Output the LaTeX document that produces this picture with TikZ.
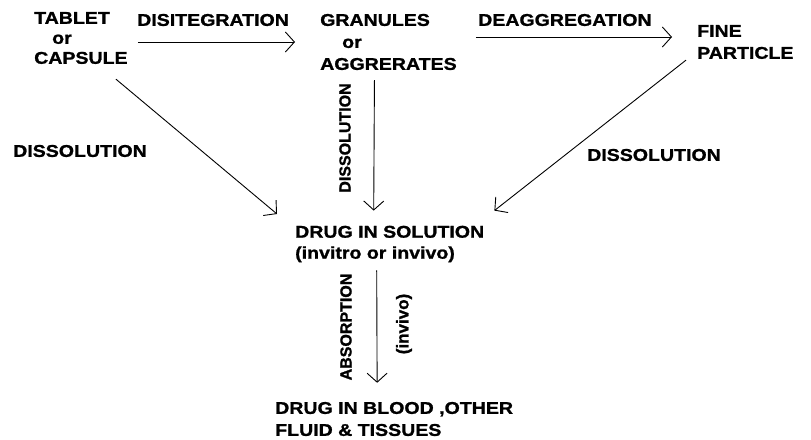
\documentclass[tikz,border=0pt]{standalone}
\usepackage{fontspec}
\setmainfont{Liberation Sans}[FakeStretch=1.15,BoldFeatures={FakeBold=1.2}]
\newfontfamily\rotfont{Liberation Sans}[BoldFeatures={FakeBold=1.2}]
\usetikzlibrary{arrows.meta,calc}
\begin{document}
\begin{tikzpicture}[x=1pt,y=-1pt,
  lbl/.style={font=\bfseries\fontsize{17}{20}\selectfont, inner sep=0pt},
  rlbl/.style={font=\rotfont\bfseries\fontsize{16}{20}\selectfont, inner sep=0pt},
  arr/.style={-{Straight Barb[length=9pt,width=20pt]}, line width=0.9pt}]
\useasboundingbox (0,0) rectangle (811,439);
% nodes
\node[lbl, align=left, anchor=west] (tablet) at (34,38) {TABLET\\\hspace*{18pt}or\\CAPSULE};
\node[lbl, anchor=west] (disi) at (137,20) {DISITEGRATION};
\node[lbl, align=left, anchor=west, font=\bfseries\fontsize{17}{22}\selectfont] (gran) at (320,42) {GRANULES\\\hspace*{22pt}or\\AGGRERATES};
\node[lbl, anchor=west] (deagg) at (478,20) {DEAGGREGATION};
\node[lbl, align=left, anchor=west, font=\bfseries\fontsize{17}{22}\selectfont] (fine) at (697,42) {FINE\\PARTICLE};
\node[lbl] (d1) at (80,151) {DISSOLUTION};
\node[rlbl, rotate=90] (d2) at (345,138) {DISSOLUTION};
\node[lbl] (d3) at (654,155) {DISSOLUTION};
\node[lbl, align=left, anchor=west, font=\bfseries\fontsize{17}{21}\selectfont] (sol) at (295,244) {DRUG IN SOLUTION\\(invitro or invivo)};
\node[rlbl, rotate=90] (abs) at (346,327) {ABSORPTION};
\node[rlbl, rotate=90, font=\rotfont\bfseries\fontsize{17}{20}\selectfont] (inv) at (404,324) {(invivo)};
\node[lbl, align=left, anchor=west, font=\bfseries\fontsize{17}{22}\selectfont] (blood) at (275,419) {DRUG IN BLOOD ,OTHER\\FLUID \& TISSUES};
% connectors
\draw[arr] ([xshift=10]tablet.east |- gran.west) -- ([xshift=-25]gran.west);
\draw[arr] ([shift={(19,-5)}]gran.east) -- ([shift={(-25,-5)}]fine.west);
\draw[arr] ([shift={(35,15)}]tablet.south) -- ([shift={(-18,-30)}]sol.west);
\draw[arr] ([shift={(-14,10)}]gran.south) -- ([shift={(-16,-15)}]sol.north);
\draw[arr] ([shift={(-11,1)}]fine.south west) -- ([shift={(10,-15)}]sol.north east);
\draw[arr] ([shift={(-13,8)}]sol.south) -- ([shift={(-17,-19)}]blood.north);
\end{tikzpicture}
\end{document}
